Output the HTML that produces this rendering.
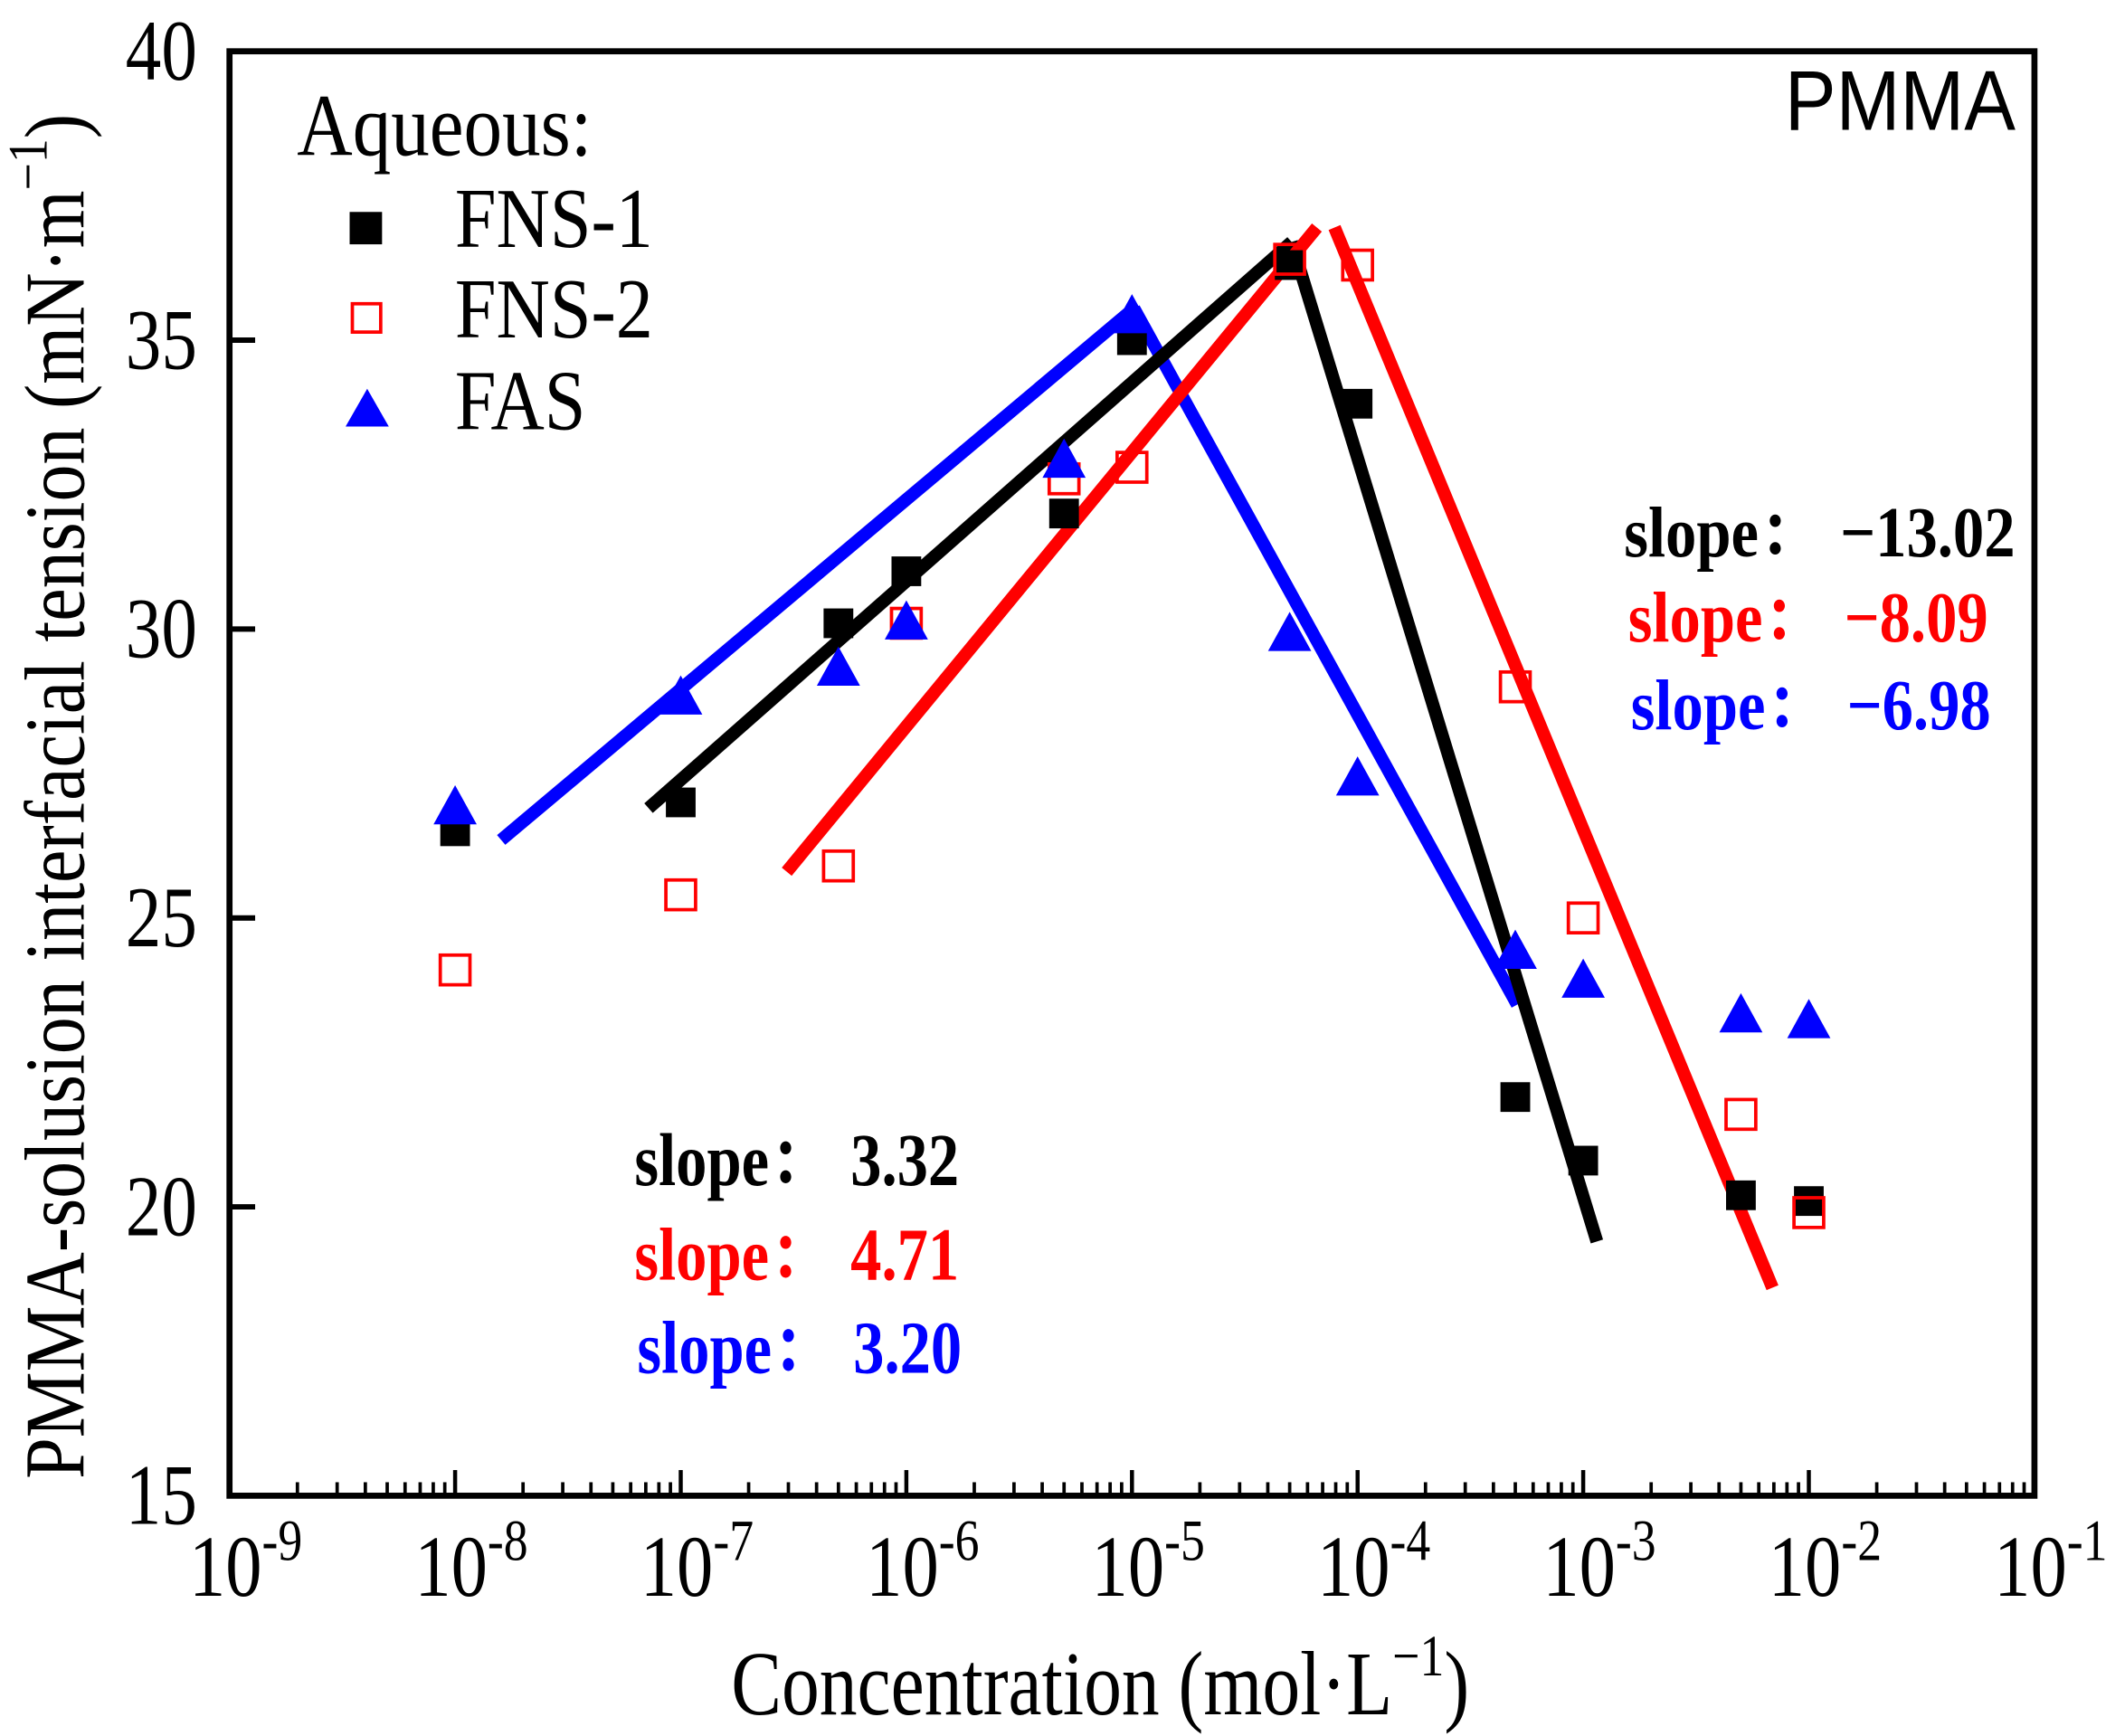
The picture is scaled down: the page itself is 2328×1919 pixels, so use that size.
<!DOCTYPE html>
<html><head><meta charset="utf-8">
<style>
html,body{margin:0;padding:0;background:#fff;}
svg{display:block;}
text{font-family:"Liberation Serif","Noto Serif CJK SC",serif;}
</style></head>
<body>
<svg id="chart" width="2328" height="1919" viewBox="0 0 1560 1286" preserveAspectRatio="none" xmlns="http://www.w3.org/2000/svg">
<g id="plot"></g>
</svg>
<script>
// data
const concentrations = [1e-8,1e-7,5e-7,1e-6,5e-6,1e-5,5e-5,1e-4,5e-4,1e-3,5e-3,1e-2];
const fns1Values = [26.5,27.0,30.1,31.0,32.0,35.0,36.3,33.9,21.9,20.8,20.2,20.1];
const fns2Values = [24.1,25.4,25.9,30.1,32.6,32.8,36.4,36.3,29.0,25.0,21.6,19.9];
const fasValues  = [26.9,28.8,29.3,30.1,32.9,35.4,29.9,27.4,24.4,23.9,23.3,23.2];
// fit lines: [x1,y1,x2,y2]
const fns1Rise = [7.2e-8,26.9,5.1e-5,36.7];
const fns1Fall = [5.1e-5,36.7,1.15e-3,19.4];
const fns2Rise = [2.95e-7,25.8,6.6e-5,36.95];
const fns2Fall = [7.9e-5,36.95,6.9e-3,18.6];
const fasRise  = [1.6e-8,26.35,1.02e-5,35.55];
const fasFall  = [1.02e-5,35.55,5.1e-4,23.5];
const yTicks = [15,20,25,30,35,40];
const xDecades = [-9,-8,-7,-6,-5,-4,-3,-2,-1];

const L=170,R=1507,T=38,B=1108;
const xs = v => L + (Math.log10(v)+9)/8*(R-L);
const ys = v => B - (v-15)/25*(B-T);
const NS='http://www.w3.org/2000/svg';
const g=document.getElementById('plot');
function mk(tag,attrs,parent){const e=document.createElementNS(NS,tag);for(const k in attrs)e.setAttribute(k,attrs[k]);(parent||g).appendChild(e);return e;}

function fit(arr,color,name){
  const e=mk('line',{x1:xs(arr[0]),y1:ys(arr[1]),x2:xs(arr[2]),y2:ys(arr[3]),stroke:color,'stroke-width':9.5});
  
  
}
fit(fasRise,'#0000ff','fas-rise-fit');
fit(fasFall,'#0000ff','fas-fall-fit');
fit(fns1Rise,'#000','fns1-rise-fit');
fit(fns1Fall,'#000','fns1-fall-fit');
fit(fns2Rise,'#ff0000','fns2-rise-fit');
fit(fns2Fall,'#ff0000','fns2-fall-fit');

function square(cx,cy,filled,name){
  const e=mk('rect',{x:cx-11,y:cy-11,width:22,height:22,fill:filled?'#000':'none',stroke:filled?'#000':'#ff0000','stroke-width':filled?0:2.5});
  
  
}
function tri(cx,cy,name){
  const e=mk('polygon',{points:`${cx},${cy-17} ${cx-16},${cy+12} ${cx+16},${cy+12}`,fill:'#0000ff'});
  
  
}
concentrations.forEach((c,i)=>{
  square(xs(c),ys(fns1Values[i]),true,'fns1-point');
  square(xs(c),ys(fns2Values[i]),false,'fns2-point');
  tri(xs(c),ys(fasValues[i]),'fas-point');
});

const fr=mk('rect',{x:L,y:T,width:R-L,height:B-T,fill:'none',stroke:'#000','stroke-width':4.5});



yTicks.forEach(v=>{
  const y=ys(v);
  const t=mk('line',{x1:L,y1:y,x2:L+19,y2:y,stroke:'#000','stroke-width':4});
  
  
  const lb=mk('text',{x:0,y:0,'font-size':53,'text-anchor':'end',transform:`translate(${L-24},${y+21}) scale(1,1.2)`});
  lb.textContent=v;
  
  
});
xDecades.forEach((d,i)=>{
  const x=xs(Math.pow(10,d));
  const t=mk('line',{x1:x,y1:B,x2:x,y2:B-19,stroke:'#000','stroke-width':3});
  
  
  if(i<xDecades.length-1){
    for(let m=2;m<=9;m++){
      const xm=xs(m*Math.pow(10,d));
      const mt=mk('line',{x1:xm,y1:B,x2:xm,y2:B-10,stroke:'#000','stroke-width':2.5});
      
      
    }
  }
  const lb=mk('text',{x:0,y:0,'font-size':54,'text-anchor':'middle',transform:`translate(${x+12},1182) scale(1,1.2)`});
  
  
  const t1=mk('tspan',{},lb); t1.textContent='10';
  const t2=mk('tspan',{dy:-22,'font-size':36},lb); t2.textContent=String(d);
});
</script>
<svg style="position:absolute;left:0;top:0" width="2328" height="1919" viewBox="0 0 1560 1286" preserveAspectRatio="none" xmlns="http://www.w3.org/2000/svg">
<text transform="translate(815,1270) scale(1,1.2)" font-size="56" text-anchor="middle">Concentration (mol·L<tspan dy="-24" font-size="36">−1</tspan><tspan dy="24">)</tspan></text>
<text transform="translate(62,590) rotate(-90) scale(1,1.15)" font-size="55" text-anchor="middle">PMMA-solusion interfacial tension (mN·m<tspan dy="-24" font-size="36">−1</tspan><tspan dy="24">)</tspan></text>
<text transform="translate(1493,96) scale(1,1.1)" font-size="57" text-anchor="end" style="font-family:'Liberation Sans',sans-serif">PMMA</text>
<g>
<text transform="translate(220,115) scale(1,1.15)" font-size="57">Aqueous:</text>
<rect x="259" y="157" width="24" height="24" fill="#000"/>
<text transform="translate(337,183) scale(1,1.15)" font-size="55">FNS-1</text>
<rect x="261" y="225" width="21" height="21" fill="none" stroke="#ff0000" stroke-width="2.5"/>
<text transform="translate(337,250) scale(1,1.15)" font-size="55">FNS-2</text>
<polygon points="272,288 256,316 288,316" fill="#0000ff"/>
<text transform="translate(337,318) scale(1,1.15)" font-size="55">FAS</text>
</g>
<g font-weight="bold" font-size="46">
<text transform="translate(1203,412) scale(1,1.15)" fill="#000">slope：<tspan x="160">−13.02</tspan></text>
<text transform="translate(1206,475) scale(1,1.15)" fill="#ff0000">slope：<tspan x="160">−8.09</tspan></text>
<text transform="translate(1208,540) scale(1,1.15)" fill="#0000ff">slope：<tspan x="160">−6.98</tspan></text>
<text transform="translate(470,878) scale(1,1.2)" fill="#000">slope：<tspan x="160">3.32</tspan></text>
<text transform="translate(470,948) scale(1,1.2)" fill="#ff0000">slope：<tspan x="160">4.71</tspan></text>
<text transform="translate(472,1017) scale(1,1.2)" fill="#0000ff">slope：<tspan x="160">3.20</tspan></text>
</g>
</svg>
</body></html>
